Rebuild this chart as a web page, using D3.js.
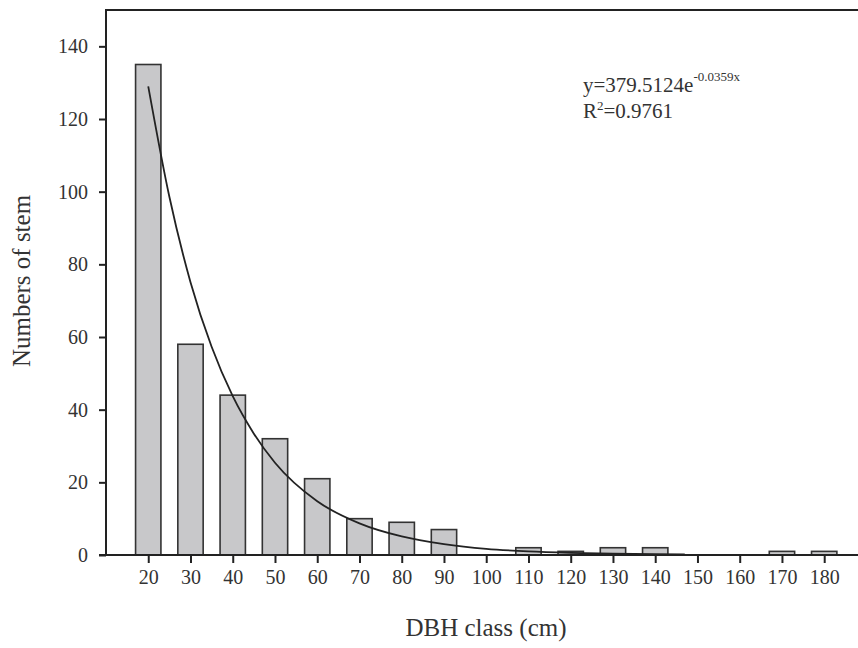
<!DOCTYPE html>
<html>
<head>
<meta charset="utf-8">
<script src="https://cdn.jsdelivr.net/npm/d3@7"></script>
<style>
  body { margin: 0; background: #fff; }
  svg text { font-family: "Liberation Serif", "Times New Roman", serif; fill: #333; }
</style>
</head>
<body>
<svg id="chart"></svg>
<script>
// DBH classes and stem counts
const classes = [20, 30, 40, 50, 60, 70, 80, 90, 100, 110, 120, 130, 140, 150, 160, 170, 180];
const stems = [135, 58, 44, 32, 21, 10, 9, 7, 0, 2, 1, 2, 2, 0, 0, 1, 1];
const yTicks = [0, 20, 40, 60, 80, 100, 120, 140];

// fitted curve, points estimated along the drawn line
const curveX = [20, 25, 30, 35, 40, 45, 50, 60, 70, 80, 90, 100, 110, 120, 130, 140, 147];
const curveY = [129, 98.6, 75.1, 57.3, 43.7, 33.4, 25.4, 14.8, 8.7, 5.1, 3.0, 1.7, 1.0, 0.6, 0.35, 0.2, 0.14];

const w = 858, h = 648;
const margin = { top: 10, right: 858, bottom: 555, left: 106 };

const svg = d3.select('#chart').attr('width', w).attr('height', h);

const x = d3.scaleLinear().domain([10, 188]).range([margin.left, margin.right]);
const y = d3.scaleLinear().domain([0, 150]).range([margin.bottom, margin.top]);

// bars
svg.selectAll('.bar')
  .data(classes.map((c, i) => ({ c, v: stems[i] })).filter(d => d.v > 0))
  .join('rect')
  .attr('class', 'bar')
  .attr('x', d => x(d.c - 3))
  .attr('width', x(6) - x(0))
  .attr('y', d => y(d.v))
  .attr('height', d => y(0) - y(d.v))
  .attr('fill', '#c8c8ca')
  .attr('stroke', '#333')
  .attr('stroke-width', 1.6);

// fitted curve
const line = d3.line()
  .x(d => x(d[0]))
  .y(d => y(d[1]))
  .curve(d3.curveMonotoneX);

svg.append('path')
  .datum(curveX.map((c, i) => [c, curveY[i]]))
  .attr('d', line)
  .attr('fill', 'none')
  .attr('stroke', '#222')
  .attr('stroke-width', 1.8);

// axes
const xAxis = d3.axisBottom(x).tickValues(classes).tickSize(8).tickPadding(7);
const yAxis = d3.axisLeft(y).tickValues(yTicks).tickSize(7).tickPadding(11);

const gx = svg.append('g').attr('transform', `translate(0, ${margin.bottom})`).call(xAxis);
const gy = svg.append('g').attr('transform', `translate(${margin.left}, 0)`).call(yAxis);

[gx, gy].forEach(g => {
  g.select('.domain').remove();
  g.selectAll('.tick line').attr('stroke', '#222').attr('stroke-width', 2);
  g.selectAll('.tick text')
    .style('font-family', '"Liberation Serif", serif')
    .style('font-size', '20px')
    .attr('fill', '#333');
});

// frame: left, bottom and top lines (no right side)
svg.append('line').attr('x1', margin.left).attr('x2', margin.left)
  .attr('y1', margin.top - 1).attr('y2', margin.bottom + 1)
  .attr('stroke', '#222').attr('stroke-width', 2);
svg.append('line').attr('x1', margin.left - 7).attr('x2', margin.right)
  .attr('y1', margin.bottom).attr('y2', margin.bottom)
  .attr('stroke', '#222').attr('stroke-width', 2);
svg.append('line').attr('x1', margin.left - 1).attr('x2', margin.right)
  .attr('y1', margin.top).attr('y2', margin.top)
  .attr('stroke', '#222').attr('stroke-width', 2);

// axis titles
svg.append('text')
  .attr('x', 486).attr('y', 636)
  .attr('text-anchor', 'middle')
  .style('font-size', '25px')
  .text('DBH class (cm)');

svg.append('text')
  .attr('transform', `translate(30, 281) rotate(-90)`)
  .attr('text-anchor', 'middle')
  .style('font-size', '25px')
  .text('Numbers of stem');

// equation
const eq = svg.append('text').attr('x', 583).attr('y', 92).style('font-size', '21px');
eq.append('tspan').text('y=379.5124e');
eq.append('tspan').attr('dy', -11).style('font-size', '13px').text('-0.0359x');

const r2 = svg.append('text').attr('x', 583).attr('y', 118).style('font-size', '21px');
r2.append('tspan').text('R');
r2.append('tspan').attr('dy', -8).style('font-size', '13px').text('2');
r2.append('tspan').attr('dy', 8).text('=0.9761');
</script>
</body>
</html>
